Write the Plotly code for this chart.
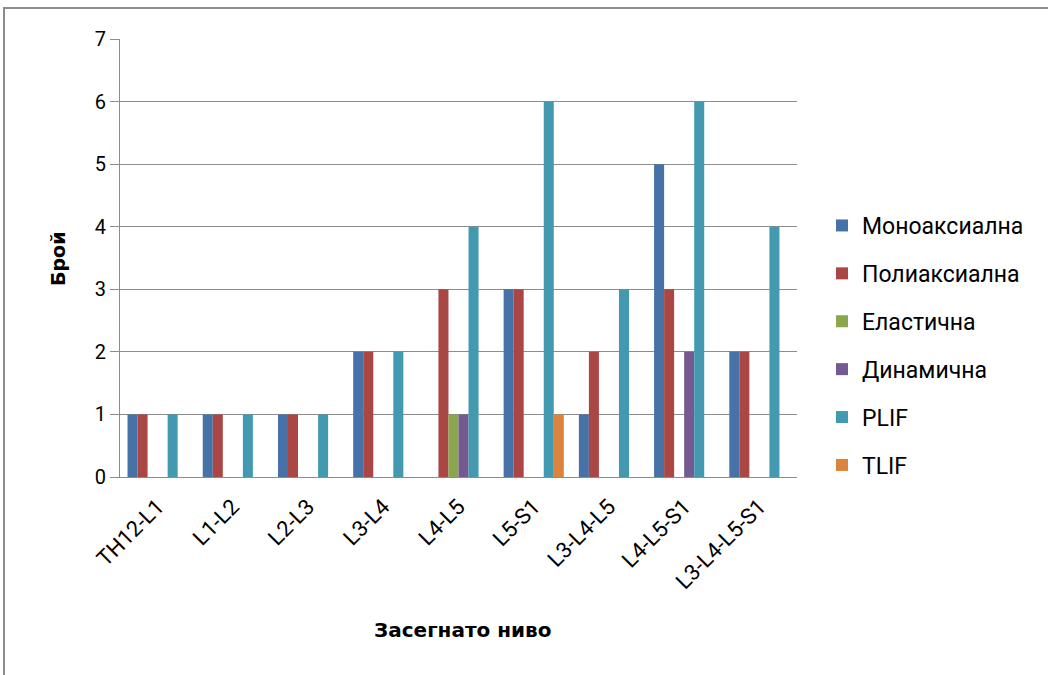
import plotly.graph_objects as go

# Spinal levels operated on
levels = ["TH12-L1", "L1-L2", "L2-L3", "L3-L4", "L4-L5", "L5-S1",
          "L3-L4-L5", "L4-L5-S1", "L3-L4-L5-S1"]

# Counts per fixation / fusion technique
mono = [1, 1, 1, 2, 0, 3, 1, 5, 2]
poly = [1, 1, 1, 2, 3, 3, 2, 3, 2]
elastic = [0, 0, 0, 0, 1, 0, 0, 0, 0]
dynamic = [0, 0, 0, 0, 1, 0, 0, 2, 0]
plif = [1, 1, 1, 2, 4, 6, 3, 6, 4]
tlif = [0, 0, 0, 0, 0, 1, 0, 0, 0]

series = [
    ("Моноаксиална", mono, "#4672A8"),
    ("Полиаксиална", poly, "#AA4644"),
    ("Еластична", elastic, "#8AA64F"),
    ("Динамична", dynamic, "#735A90"),
    ("PLIF", plif, "#4399B0"),
    ("TLIF", tlif, "#DB843D"),
]

W, H = 1048, 675
L, R, T, B = 120, 251, 39, 198
pw, ph = W - L - R, H - T - B

fig = go.Figure()
for name, vals, color in series:
    fig.add_trace(go.Bar(
        x=levels, y=vals, name=name, legendgroup=name,
        marker=dict(color=color, line=dict(width=0)),
    ))

font_main = "Roboto, 'Noto Sans', sans-serif"
font_title = "'DejaVu Sans', sans-serif"


def px_x(p):
    return (p - L) / pw


def px_y(p):
    return (H - B - p) / ph


fig.update_layout(
    width=W, height=H,
    margin=dict(l=L, r=R, t=T, b=B, autoexpand=False),
    paper_bgcolor="white", plot_bgcolor="white",
    barmode="group", bargap=0.2, bargroupgap=0,
    font=dict(family=font_main, size=20, color="#000000"),
    showlegend=True,
    legend=dict(
        x=px_x(822), y=px_y(204), xanchor="left", yanchor="top",
        font=dict(size=23), tracegroupgap=15, itemwidth=30,
        bgcolor="rgba(0,0,0,0)",
    ),
    xaxis=dict(
        tickangle=-45, showgrid=False, showline=True,
        linecolor="#8c8c8c", linewidth=1, ticks="",
        tickfont=dict(size=22), ticklabelstandoff=7,
        automargin=False,
    ),
    yaxis=dict(
        range=[0, 7], dtick=1, showgrid=True, gridcolor="#8c8c8c", gridwidth=1,
        showline=True, linecolor="#8c8c8c", linewidth=1,
        ticks="outside", ticklen=9, tickcolor="#8c8c8c",
        tickfont=dict(size=20), zeroline=False,
        automargin=False,
    ),
    annotations=[
        dict(text="<b>Засегнато ниво</b>", xref="paper", yref="paper",
             x=px_x(462), y=px_y(630), xanchor="center", yanchor="middle",
             showarrow=False, font=dict(family=font_title, size=20)),
        dict(text="<b>Брой</b>", xref="paper", yref="paper",
             x=px_x(58), y=px_y(259), xanchor="center", yanchor="middle",
             textangle=-90, showarrow=False,
             font=dict(family=font_title, size=19)),
    ],
    shapes=[dict(
        type="path", xref="paper", yref="paper",
        path=f"M {px_x(4)} {px_y(680)} L {px_x(4)} {px_y(8)} L {px_x(1052)} {px_y(8)}",
        line=dict(color="#8c8c8c", width=2),
    )],
)

fig.write_html("out.html")
